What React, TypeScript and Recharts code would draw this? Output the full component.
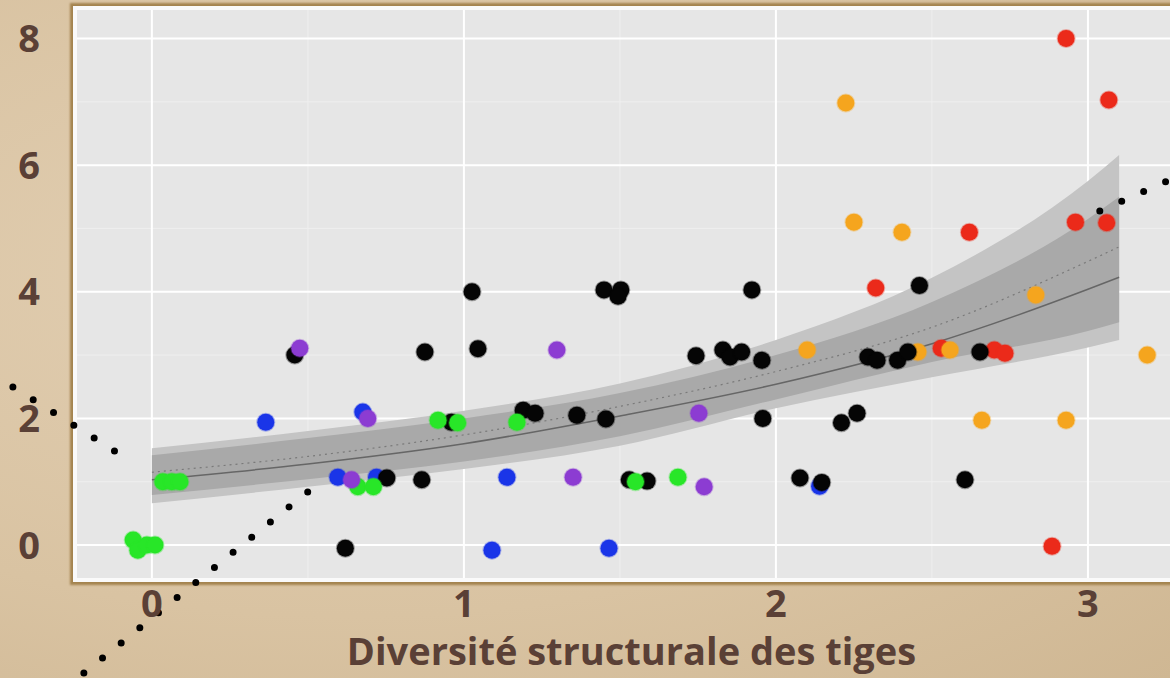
import React from "react";
import {
  ComposedChart,
  Scatter,
  Area,
  Line,
  XAxis,
  YAxis,
  CartesianGrid,
  ReferenceLine,
} from "recharts";

// axis ticks
const xTicks = [0, 1, 2, 3];
const yTicks = [0, 2, 4, 6, 8];
const xMinor = [0.5, 1.5, 2.5];
const yMinor = [1, 3, 5, 7];

type Pt = { x: number; y: number };

// observations, one list per colour group
const greenPts: Pt[] = [
  { x: -0.06, y: 0.08 }, { x: -0.045, y: -0.08 }, { x: -0.016, y: 0 }, { x: 0.01, y: 0 },
  { x: 0.035, y: 1.0 }, { x: 0.064, y: 1.0 }, { x: 0.09, y: 1.0 },
  { x: 0.66, y: 0.92 }, { x: 0.71, y: 0.92 }, { x: 0.917, y: 1.97 }, { x: 0.98, y: 1.93 },
  { x: 1.17, y: 1.94 }, { x: 1.55, y: 1.0 }, { x: 1.686, y: 1.07 },
];
const bluePts: Pt[] = [
  { x: 0.365, y: 1.94 }, { x: 0.676, y: 2.1 }, { x: 0.596, y: 1.07 }, { x: 0.72, y: 1.07 },
  { x: 1.09, y: -0.08 }, { x: 1.138, y: 1.07 }, { x: 1.465, y: -0.05 }, { x: 2.14, y: 0.93 },
];
const purplePts: Pt[] = [
  { x: 0.474, y: 3.11 }, { x: 0.692, y: 2.0 }, { x: 0.64, y: 1.03 }, { x: 1.298, y: 3.08 },
  { x: 1.35, y: 1.07 }, { x: 1.753, y: 2.08 }, { x: 1.77, y: 0.92 },
];
const blackPts: Pt[] = [
  { x: 0.458, y: 3.0 }, { x: 0.62, y: -0.05 }, { x: 0.753, y: 1.06 }, { x: 0.865, y: 1.03 },
  { x: 0.875, y: 3.05 }, { x: 1.026, y: 4.0 }, { x: 1.045, y: 3.1 }, { x: 0.96, y: 1.94 },
  { x: 1.19, y: 2.13 }, { x: 1.228, y: 2.08 }, { x: 1.362, y: 2.05 }, { x: 1.455, y: 1.99 },
  { x: 1.449, y: 4.03 }, { x: 1.503, y: 4.03 }, { x: 1.494, y: 3.93 }, { x: 1.53, y: 1.03 },
  { x: 1.587, y: 1.01 }, { x: 1.744, y: 2.99 }, { x: 1.83, y: 3.08 }, { x: 1.853, y: 2.97 },
  { x: 1.89, y: 3.05 }, { x: 1.955, y: 2.92 }, { x: 1.923, y: 4.03 }, { x: 1.958, y: 2.0 },
  { x: 2.077, y: 1.06 }, { x: 2.147, y: 0.99 }, { x: 2.21, y: 1.93 }, { x: 2.26, y: 2.08 },
  { x: 2.295, y: 2.97 }, { x: 2.324, y: 2.92 }, { x: 2.39, y: 2.92 }, { x: 2.423, y: 3.05 },
  { x: 2.46, y: 4.1 }, { x: 2.606, y: 1.03 }, { x: 2.654, y: 3.05 },
];
const orangePts: Pt[] = [
  { x: 2.224, y: 6.98 }, { x: 2.25, y: 5.1 }, { x: 2.404, y: 4.94 }, { x: 2.833, y: 3.95 },
  { x: 2.1, y: 3.08 }, { x: 2.455, y: 3.05 }, { x: 2.558, y: 3.08 }, { x: 2.66, y: 1.97 },
  { x: 2.93, y: 1.97 }, { x: 3.19, y: 3.0 },
];
const redPts: Pt[] = [
  { x: 2.93, y: 8.0 }, { x: 3.067, y: 7.03 }, { x: 2.62, y: 4.94 }, { x: 2.32, y: 4.06 },
  { x: 2.96, y: 5.1 }, { x: 3.06, y: 5.09 }, { x: 2.53, y: 3.11 }, { x: 2.7, y: 3.08 },
  { x: 2.734, y: 3.03 }, { x: 2.885, y: -0.02 },
];

// fitted curves and their bands, read at these x positions
const fitX = [0, 0.5, 1, 1.5, 2, 2.5, 3, 3.1];
const outerTop = [1.53, 1.8, 2.12, 2.55, 3.24, 4.22, 5.75, 6.16];
const innerTop = [1.42, 1.69, 2.0, 2.4, 3.0, 3.84, 5.15, 5.5];
const dottedFit = [1.15, 1.4, 1.74, 2.19, 2.74, 3.44, 4.48, 4.71];
const solidFit = [1.03, 1.28, 1.6, 2.04, 2.54, 3.18, 4.04, 4.23];
const innerBot = [0.79, 1.04, 1.32, 1.72, 2.3, 2.89, 3.38, 3.52];
const outerBot = [0.66, 0.92, 1.2, 1.57, 2.16, 2.65, 3.12, 3.24];

const fitRows = fitX.map((x, i) => ({
  x,
  outer: [outerBot[i], outerTop[i]],
  inner: [innerBot[i], innerTop[i]],
  dotted: dottedFit[i],
  solid: solidFit[i],
}));

// slide annotation: dotted pointer lines
const pointerLines = [
  [{ x: -0.4455, y: 2.496 }, { x: -0.0577, y: 1.295 }],
  [{ x: -0.218, y: -2.022 }, { x: 0.558, y: 1.074 }],
  [{ x: 3.038, y: 5.276 }, { x: 3.327, y: 5.91 }],
];

const groups = [
  { name: "red", data: redPts, color: "#eb2a1a" },
  { name: "orange", data: orangePts, color: "#f5a51e" },
  { name: "blue", data: bluePts, color: "#1a35e8" },
  { name: "black", data: blackPts, color: "#050505" },
  { name: "green", data: greenPts, color: "#28e628" },
  { name: "purple", data: purplePts, color: "#8c3cd2" },
];

const INK = "#5a4036";
const FONT = "'Open Sans', Lato, sans-serif";

const dot = (color: string) => (p: any) => (
  <circle cx={p.cx} cy={p.cy} r={8.5} fill={color} stroke={color} strokeOpacity={0.35} strokeWidth={2} />
);

export default function App() {
  return (
    <div
      style={{
        position: "relative",
        width: 1170,
        height: 678,
        overflow: "hidden",
        background:
          "radial-gradient(ellipse at 30% 40%, #e2cfb3 0%, #d9c3a2 60%, #cfb793 100%)",
      }}
    >
      <style>{"body{margin:0}"}</style>
      {/* torn paper panel edge */}
      <div
        style={{
          position: "absolute",
          left: 73,
          top: 6,
          width: 1120,
          height: 576,
          background: "#fafafa",
          boxShadow: "0 0 2px 3px #a4844f",
        }}
      />
      <div style={{ position: "absolute", left: 0, top: 0 }}>
        <ComposedChart width={1170} height={678} margin={{ top: 10, right: 0, bottom: 0, left: 0 }}>
          <CartesianGrid
            fill="#e6e6e6"
            stroke="#efefef"
            strokeWidth={1}
            horizontalValues={yMinor}
            verticalValues={xMinor}
          />
          <CartesianGrid
            stroke="#ffffff"
            strokeWidth={2}
            horizontalValues={yTicks}
            verticalValues={xTicks}
          />
          <XAxis
            type="number"
            dataKey="x"
            domain={[-0.24, 3.263]}
            ticks={xTicks}
            allowDataOverflow
            height={100}
            axisLine={false}
            tickLine={false}
            tickSize={0}
            tickMargin={12}
            tick={{ fill: INK, fontSize: 38, fontWeight: 700, fontFamily: FONT }}
            label={{
              value: "Diversité structurale des tiges",
              position: "insideBottom",
              offset: 13,
              dx: 8,
              fill: INK,
              fontSize: 38,
              fontWeight: 700,
              fontFamily: FONT,
            }}
          />
          <YAxis
            type="number"
            dataKey="y"
            domain={[-0.52, 8.45]}
            ticks={yTicks}
            allowDataOverflow
            width={77}
            axisLine={false}
            tickLine={false}
            tickSize={0}
            tickMargin={37}
            tick={{ fill: INK, fontSize: 38, fontWeight: 700, fontFamily: FONT }}
          />
          <Area
            data={fitRows}
            dataKey="outer"
            type="monotone"
            fill="#c4c4c4"
            fillOpacity={1}
            stroke="none"
            isAnimationActive={false}
          />
          <Area
            data={fitRows}
            dataKey="inner"
            type="monotone"
            fill="#a9a9a9"
            fillOpacity={1}
            stroke="none"
            isAnimationActive={false}
          />
          <Line
            data={fitRows}
            dataKey="dotted"
            type="monotone"
            stroke="#7a7a7a"
            strokeWidth={1.2}
            strokeDasharray="2 4"
            dot={false}
            isAnimationActive={false}
          />
          <Line
            data={fitRows}
            dataKey="solid"
            type="monotone"
            stroke="#666666"
            strokeWidth={1.5}
            dot={false}
            isAnimationActive={false}
          />
          {groups.map((g) => (
            <Scatter
              key={g.name}
              name={g.name}
              data={g.data}
              dataKey="y"
              shape={dot(g.color)}
              isAnimationActive={false}
            />
          ))}
          {pointerLines.map((seg, i) => (
            <ReferenceLine
              key={i}
              segment={seg}
              ifOverflow="visible"
              stroke="#000"
              strokeWidth={7}
              strokeLinecap="round"
              strokeDasharray="0 24"
            />
          ))}
        </ComposedChart>
      </div>
    </div>
  );
}
